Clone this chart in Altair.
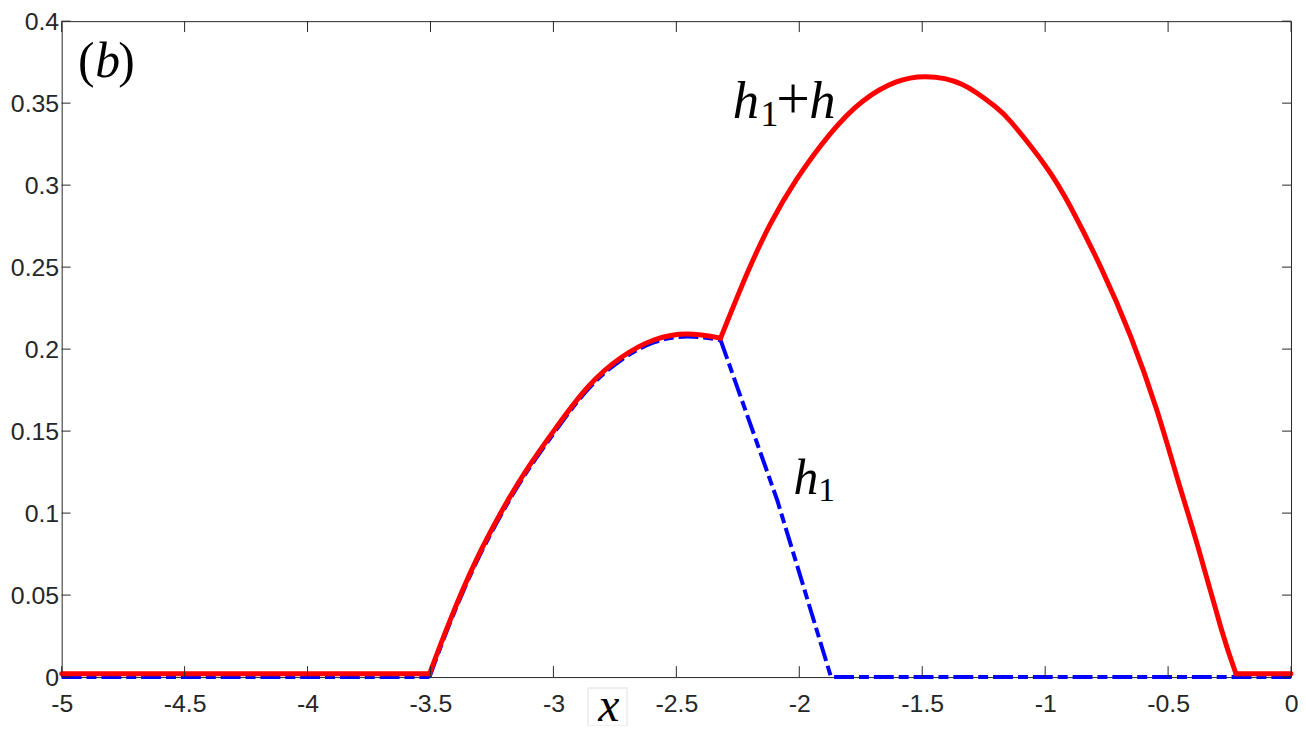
import altair as alt
import pandas as pd

# ---- data ----
red_flat1_x = [-5.0, -3.504]
red_flat1_y = [0.002, 0.002]
red_hump1_x = [-3.504, -3.422, -3.315, -3.207, -3.113, -2.992, -2.858, -2.723, -2.589, -2.454, -2.320]
red_hump1_y = [0.002, 0.034, 0.071, 0.102, 0.1255, 0.1515, 0.1772, 0.1950, 0.2057, 0.2092, 0.2067]
red_hump2_x = [-2.320, -2.212, -2.118, -2.011, -1.876, -1.742, -1.608, -1.487, -1.339, -1.204, -1.137,
               -1.0, -0.895, -0.774, -0.653, -0.546, -0.458, -0.378, -0.284, -0.224]
red_hump2_y = [0.2067, 0.2462, 0.2762, 0.3035, 0.3310, 0.3512, 0.3628, 0.3661, 0.3615, 0.3480, 0.3382,
               0.3120, 0.2862, 0.2500, 0.2080, 0.1628, 0.1190, 0.0791, 0.0295, 0.002]
red_flat2_x = [-0.224, 0.0]
red_flat2_y = [0.002, 0.002]

blue_flat1_x = [-5.0, -3.504]
blue_flat1_y = [0.0, 0.0]
blue_hump_x = [-3.504, -3.422, -3.315, -3.207, -3.113, -2.992, -2.858, -2.723, -2.589, -2.454, -2.320]
blue_hump_y = [0.0, 0.0325, 0.0695, 0.1005, 0.124, 0.150, 0.1757, 0.1935, 0.2042, 0.2077, 0.2055]
blue_tail_x = [-2.320, -2.09, -1.871, 0.0]
blue_tail_y = [0.2055, 0.108, 0.0, 0.0]

x_ticks = [-5, -4.5, -4, -3.5, -3, -2.5, -2, -1.5, -1, -0.5, 0]
y_ticks = [0, 0.05, 0.1, 0.15, 0.2, 0.25, 0.3, 0.35, 0.4]


def seg_frame(parts):
    rows = []
    for seg, xs_, ys_ in parts:
        for i, (xv, yv) in enumerate(zip(xs_, ys_)):
            rows.append({"seg": seg, "x": xv, "y": yv, "o": i})
    return pd.DataFrame(rows)


red_flat_df = seg_frame([("a", red_flat1_x, red_flat1_y), ("d", red_flat2_x, red_flat2_y)])
red_hump_df = seg_frame([("b", red_hump1_x, red_hump1_y), ("c", red_hump2_x, red_hump2_y)])
blue_hump_df = seg_frame([("h", blue_hump_x, blue_hump_y)])
blue_lin_df = seg_frame([("a", blue_flat1_x, blue_flat1_y), ("t", blue_tail_x, blue_tail_y)])
xt_df = pd.DataFrame({"x": x_ticks})
yt_df = pd.DataFrame({"y": y_ticks})

W, H = 1237, 660
AX = "#262626"
SERIF = "Liberation Serif"

xs = alt.Scale(domain=[-5, 0], nice=False, zero=False)
ys = alt.Scale(domain=[0, 0.4], nice=False, zero=False)

xaxis = alt.Axis(values=x_ticks, labelExpr="'' + datum.value", ticks=False, tickSize=0, domain=False,
                 grid=False, labelFlush=False, labelOverlap=False,
                 labelFont="Liberation Sans", labelFontSize=25, labelColor=AX,
                 labelPadding=15, title="x", titleFont=SERIF, titleFontStyle="italic",
                 titleFontWeight="normal", titleFontSize=48, titleColor="#000000",
                 titleX=550, titleY=44, titleBaseline="alphabetic", titleAlign="center")
yaxis = alt.Axis(values=y_ticks, labelExpr="'' + datum.value", ticks=False, tickSize=0, domain=False,
                 grid=False, labelFlush=False, labelOverlap=False,
                 labelFont="Liberation Sans", labelFontSize=25, labelColor=AX,
                 labelPadding=3, title=None)

base_axes = alt.Chart(blue_lin_df).mark_line(opacity=0).encode(
    x=alt.X("x:Q", scale=xs, axis=xaxis),
    y=alt.Y("y:Q", scale=ys, axis=yaxis),
    detail="seg:N",
)

DASH = [20, 5, 10, 5]
blue_lin = alt.Chart(blue_lin_df).mark_line(color="#0000ff", strokeWidth=4, strokeDash=DASH,
                                            interpolate="linear").encode(
    x=alt.X("x:Q", scale=xs), y=alt.Y("y:Q", scale=ys), detail="seg:N", order="o:Q")
blue_hump = alt.Chart(blue_hump_df).mark_line(color="#0000ff", strokeWidth=4, strokeDash=DASH,
                                              interpolate="natural").encode(
    x=alt.X("x:Q", scale=xs), y=alt.Y("y:Q", scale=ys), detail="seg:N", order="o:Q")

red_flat = alt.Chart(red_flat_df).mark_line(color="#ff0000", strokeWidth=5, interpolate="linear",
                                            strokeCap="round", strokeJoin="round").encode(
    x=alt.X("x:Q", scale=xs), y=alt.Y("y:Q", scale=ys), detail="seg:N", order="o:Q")
red_hump = alt.Chart(red_hump_df).mark_line(color="#ff0000", strokeWidth=5, interpolate="natural",
                                            strokeCap="round", strokeJoin="round").encode(
    x=alt.X("x:Q", scale=xs), y=alt.Y("y:Q", scale=ys), detail="seg:N", order="o:Q")

xt_bot = alt.Chart(xt_df).mark_rule(color=AX, strokeWidth=1).encode(
    x=alt.X("x:Q", scale=xs), y=alt.value(H), y2=alt.value(H - 11))
xt_top = alt.Chart(xt_df).mark_rule(color=AX, strokeWidth=1).encode(
    x=alt.X("x:Q", scale=xs), y=alt.value(0), y2=alt.value(11))
yt_left = alt.Chart(yt_df).mark_rule(color=AX, strokeWidth=1).encode(
    y=alt.Y("y:Q", scale=ys), x=alt.value(0), x2=alt.value(9))
yt_right = alt.Chart(yt_df).mark_rule(color=AX, strokeWidth=1).encode(
    y=alt.Y("y:Q", scale=ys), x=alt.value(W), x2=alt.value(W - 9))

# faint frame around the x label, as in the reference
xlab_box = alt.Chart(xt_df).mark_rect(fill="#ffffff", fillOpacity=0, stroke="#eeeeee",
                                      strokeWidth=1).encode(
    x=alt.value(530), x2=alt.value(569), y=alt.value(H + 11), y2=alt.value(H + 49))


def piece(text, ax, ay, dx, dy, size, style):
    df = pd.DataFrame({"x": [ax], "y": [ay], "t": [text]})
    return alt.Chart(df).mark_text(font=SERIF, fontSize=size, fontStyle=style,
                                   align="left", baseline="alphabetic", dx=dx, dy=dy,
                                   color="#000000").encode(
        x=alt.X("x:Q", scale=xs), y=alt.Y("y:Q", scale=ys), text="t:N")


ann = [
    piece("(", -4.8145, 0.3659, -29.5, 0, 50, "normal"),
    piece("b", -4.8145, 0.3659, -12, 0, 50, "italic"),
    piece(")", -4.8145, 0.3659, 11, 0, 50, "normal"),
    piece("h", -2.069, 0.3408, -50, 0, 53, "italic"),
    piece("1", -2.069, 0.3408, -22, 8, 36, "normal"),
    piece("+", -2.069, 0.3408, -6, 0, 60, "normal"),
    piece("h", -2.069, 0.3408, 27, 0, 53, "italic"),
    piece("h", -1.935, 0.1118, -22, 0, 50, "italic"),
    piece("1", -1.935, 0.1118, 3, 7, 34, "normal"),
]

chart = alt.layer(base_axes, xlab_box, blue_lin, blue_hump, red_flat, red_hump,
                  xt_bot, xt_top, yt_left, yt_right, *ann).properties(
    width=W, height=H,
    autosize=alt.AutoSizeParams(type="none"),
    padding={"left": 54, "top": 11, "right": 7, "bottom": 47},
    background="#ffffff",
).configure_view(stroke=AX, strokeWidth=1)

chart.save("out.html", embed_options={"renderer": "svg", "actions": False})
